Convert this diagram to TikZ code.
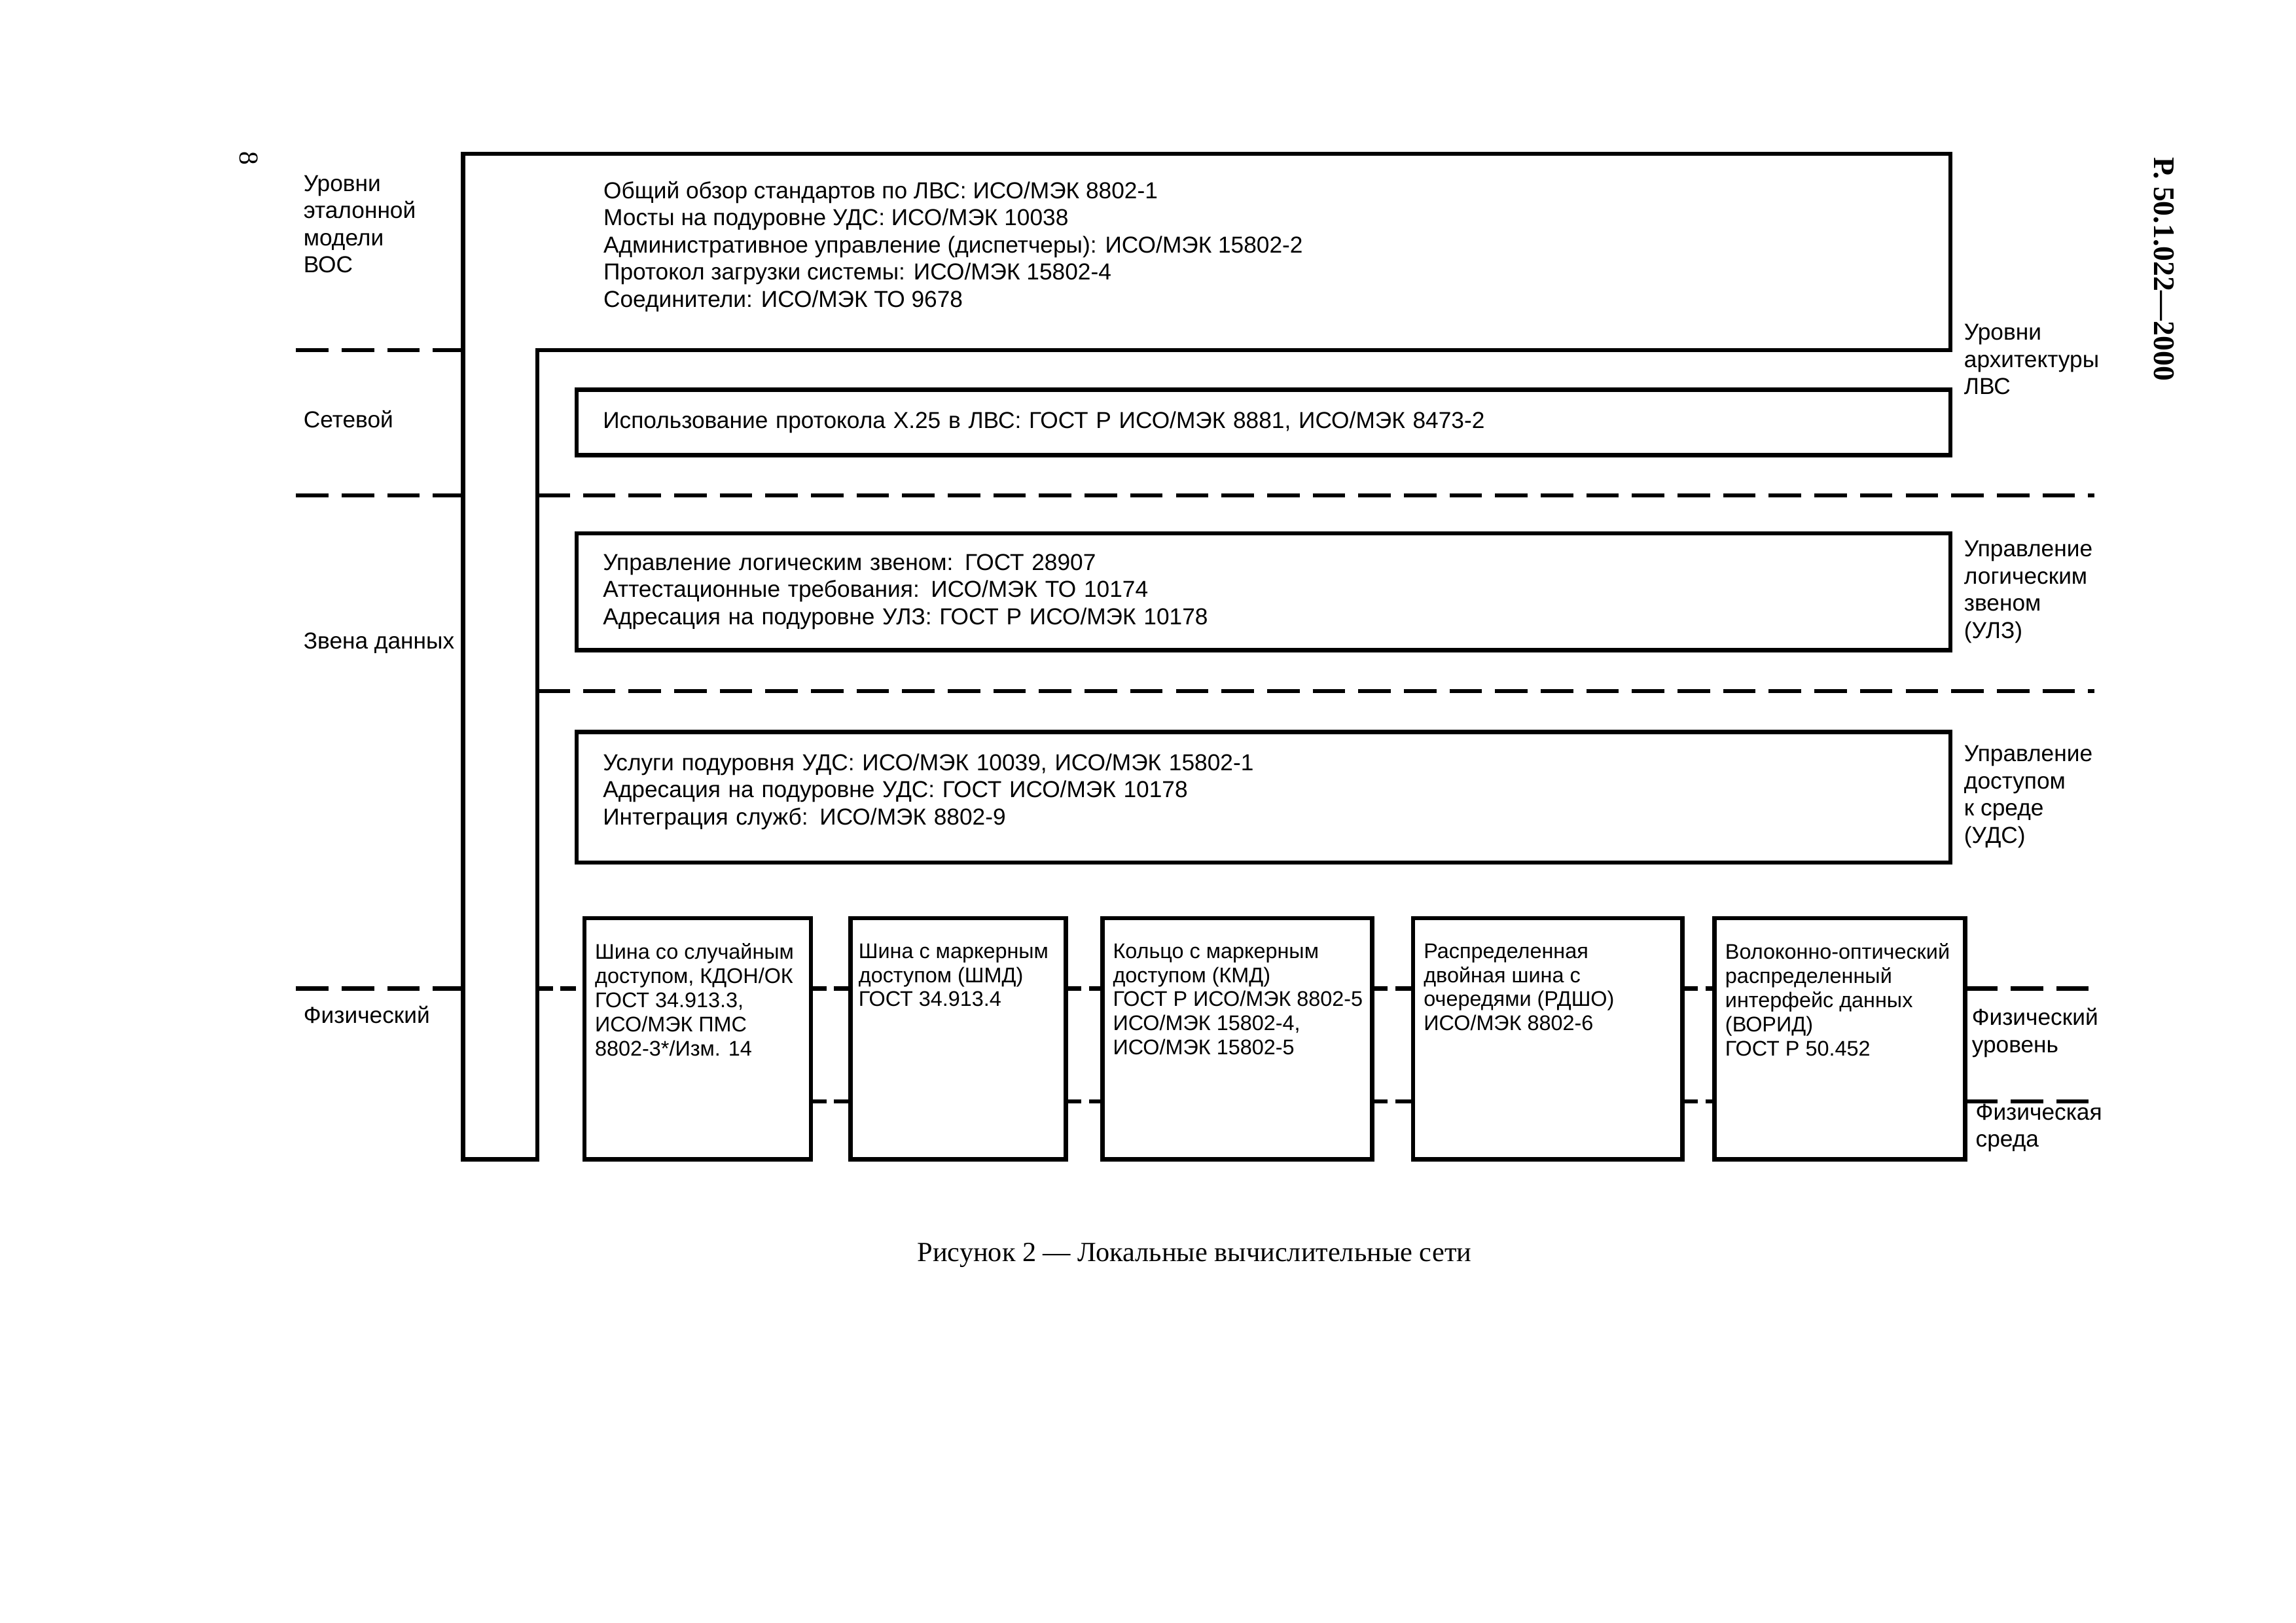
\documentclass[tikz,border=0pt]{standalone}
\usepackage{fontspec}
\setmainfont{Liberation Sans}
\newfontfamily\capfont{Liberation Serif}
\usetikzlibrary{positioning}
\tikzset{
  frame/.style={line width=1.6pt,line join=miter},
  widebox/.style={draw,line width=1.6pt,anchor=north west,outer sep=0pt,align=left,font=\fontsize{8.5}{10}\selectfont,inner xsep=0.34cm,inner ysep=0pt,minimum width=17.77cm,text width=17.09cm},
  physbox/.style={draw,line width=1.6pt,anchor=south west,outer sep=0pt,inner sep=0pt,minimum height=3.12cm},
  ptxt/.style={align=left,inner sep=0pt,font=\fontsize{7.8}{8.9}\selectfont},
  lbl/.style={align=left,anchor=west,inner sep=0pt,font=\fontsize{8.5}{10}\selectfont},
  lvl/.style={line width=1.6pt,dash pattern=on 0.42cm off 0.17cm},
  lnk/.style={line width=1.6pt,dash pattern=on 0.2cm off 0.1cm},
}
\begin{document}
\begin{tikzpicture}[node distance=0.25cm]
  \useasboundingbox (0,0) rectangle (29.7,20.99);
  % page number, code and caption
  \node[rotate=-90,inner sep=0pt,font=\capfont\fontsize{10}{12}\selectfont] (pg) at (3.22,18.94) {8};
  \node[rotate=-90,inner sep=0pt,font=\capfont\bfseries\fontsize{11}{13}\selectfont] (code) at (27.99,17.51) {Р. 50.1.022—2000};
  \node[inner sep=0pt,font=\capfont\fontsize{10.2}{12}\selectfont] (cap) at (15.45,4.75) {Рисунок 2 — Локальные вычислительные сети};
  % L-shaped frame of the general standards
  \draw[frame] (5.99,19.00) -- (25.23,19.00) -- (25.23,16.46) -- (6.95,16.46) -- (6.95,5.99) -- (5.99,5.99) -- cycle;
  \node[lbl] (gen) at (7.80,17.80) {Общий обзор стандартов по ЛВС: ИСО/МЭК 8802-1\\Мосты на подуровне УДС: ИСО/МЭК 10038\\Административное управление (диспетчеры): ИСО/МЭК 15802-2\\Протокол загрузки системы: ИСО/МЭК 15802-4\\Соединители: ИСО/МЭК ТО 9678};
  % OSI levels (left)
  \node[lbl] (osi) at (3.92,18.09) {Уровни\\эталонной\\модели\\ВОС};
  \node[lbl] (lnet) at (3.92,15.57) {Сетевой};
  \node[lbl] (ldl) at (3.92,12.67) {Звена данных};
  \node[lbl] (lph) at (3.92,7.86) {Физический};
  % LAN levels (right)
  \node[lbl] (arch) at (25.40,16.34) {Уровни\\архитектуры\\ЛВС};
  \node[lbl] (rllc) at (25.40,13.33) {Управление\\логическим\\звеном\\(УЛЗ)};
  \node[lbl] (rmac) at (25.40,10.68) {Управление\\доступом\\к среде\\(УДС)};
  \node[lbl] (rphy) at (25.50,7.63) {Физический\\уровень};
  \node[lbl] (rmed) at (25.55,6.40) {Физическая\\среда};
  % wide boxes
  \node[widebox,minimum height=0.85cm] (net) at (7.46,15.95) {Использование протокола X.25 в ЛВС: ГОСТ Р ИСО/МЭК 8881, ИСО/МЭК 8473-2};
  \node[widebox,minimum height=1.51cm] (llc) at (7.46,14.09) {Управление логическим звеном: ГОСТ 28907\\Аттестационные требования: ИСО/МЭК ТО 10174\\Адресация на подуровне УЛЗ: ГОСТ Р ИСО/МЭК 10178};
  \node[widebox,minimum height=1.69cm] (mac) at (7.46,11.52) {Услуги подуровня УДС: ИСО/МЭК 10039, ИСО/МЭК 15802-1\\Адресация на подуровне УДС: ГОСТ ИСО/МЭК 10178\\Интеграция служб: ИСО/МЭК 8802-9\vspace{0.15cm}};
  % physical boxes
  \node[physbox,minimum width=2.93cm] (b1) at (7.56,5.99) {};
  \node[physbox,minimum width=2.79cm] (b2) at (11.00,5.99) {};
  \node[physbox,minimum width=3.49cm] (b3) at (14.26,5.99) {};
  \node[physbox,minimum width=3.48cm] (b4) at (18.28,5.99) {};
  \node[physbox,minimum width=3.24cm] (b5) at (22.18,5.99) {};
  \node[ptxt,below right=0.32cm and 0.13cm of b1.north west] (t1) {Шина со случайным\\доступом, КДОН/ОК\\ГОСТ 34.913.3,\\ИСО/МЭК ПМС\\8802-3*/Изм. 14};
  \node[ptxt,below right=0.32cm and 0.1cm of b2.north west] (t2) {Шина с маркерным\\доступом (ШМД)\\ГОСТ 34.913.4};
  \node[ptxt,below right=0.32cm and 0.13cm of b3.north west] (t3) {Кольцо с маркерным\\доступом (КМД)\\ГОСТ Р ИСО/МЭК 8802-5\\ИСО/МЭК 15802-4,\\ИСО/МЭК 15802-5};
  \node[ptxt,below right=0.32cm and 0.13cm of b4.north west] (t4) {Распределенная\\двойная шина с\\очередями (РДШО)\\ИСО/МЭК 8802-6};
  \node[ptxt,below right=0.32cm and 0.13cm of b5.north west] (t5) {Волоконно-оптический\\распределенный\\интерфейс данных\\(ВОРИД)\\ГОСТ Р 50.452};
  % level borders
  \coordinate (phy) at (0,8.20);
  \coordinate (med) at (0,6.74);
  \draw[lvl] (3.83,16.46) -- (5.99,16.46);
  \draw[lvl] (3.83,14.58) -- (5.99,14.58);
  \draw[lvl] (6.95,14.58) -- (27.09,14.58);
  \draw[lvl] (6.95,12.05) -- (27.09,12.05);
  \draw[lvl] (3.83,8.20) -- (5.99,8.20);
  \draw[lnk] (6.95,8.20) -- (b1.west |- phy);
  \foreach \a/\b in {b1/b2,b2/b3,b3/b4,b4/b5} {
    \draw[lnk] (\a.east |- phy) -- (\b.west |- phy);
    \draw[lnk] (\a.east |- med) -- (\b.west |- med);
  }
  \draw[lvl] (b5.east |- phy) -- (27.09,8.20);
  \draw[lvl] (b5.east |- med) -- (27.09,6.74);
\end{tikzpicture}
\end{document}
